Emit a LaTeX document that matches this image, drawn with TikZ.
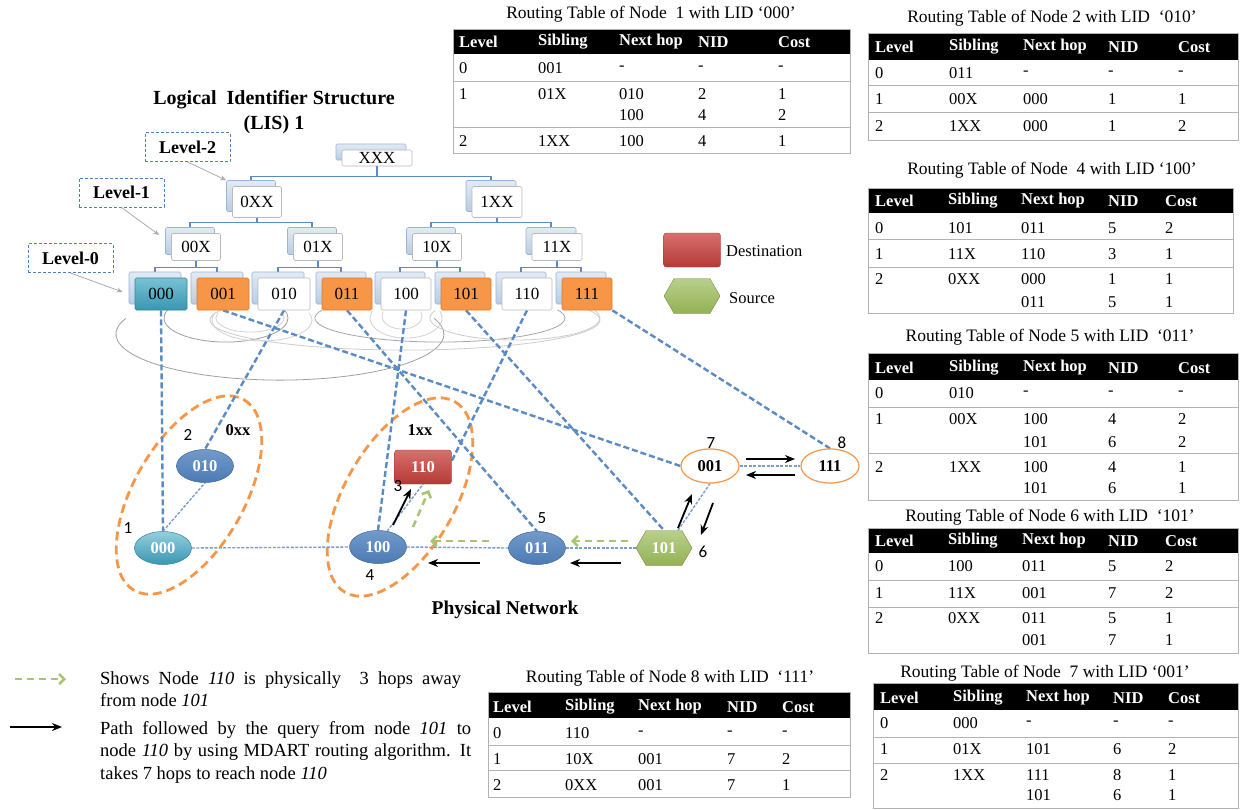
\documentclass[tikz,border=0pt]{standalone}
\usepackage{fontspec}
\setmainfont{Liberation Serif}
\newfontfamily\carl{Carlito}
\usetikzlibrary{calc,arrows.meta,shapes.geometric,shapes.symbols}
\pgfdeclarelayer{bg}
\pgfsetlayers{bg,main}
\definecolor{tblue}{HTML}{5B8BC4}
\definecolor{dblue}{HTML}{4F81BD}
\definecolor{lnk}{HTML}{7B9DCD}
\definecolor{orng}{HTML}{F79646}
\definecolor{orngd}{HTML}{E0782C}
\definecolor{grn}{HTML}{9BBB59}
\definecolor{backb}{HTML}{B8CCE4}
\definecolor{tealc}{HTML}{3FA7C4}
\definecolor{redc}{HTML}{C9403C}
\newcommand\fz[1]{\fontsize{#1}{#1}\selectfont}
\newcommand\tbox[7]{%
  \node[backbox,minimum width=#4pt,minimum height=#5pt] (#1b) at ($(#2,#3)+(-6,-6)$) {};
  \node[frontbox,minimum width=#4pt,minimum height=#5pt,#7] (#1) at (#2,#3) {#6};}
\newcommand\tframe[7]{%
  \fill[black] (#1,#3) rectangle (#2,#4);
  \draw[tbl] (#1,#3) rectangle (#2,#5);
  \draw[tbl] (#1,#6) -- (#2,#6) (#1,#7) -- (#2,#7);}
\newcommand\thead[7]{%
  \node[hd] (#1h1) at (#3,#2) {Level};
  \node[hd] (#1h2) at (#4,#2) {Sibling};
  \node[hd] (#1h3) at (#5,#2) {Next hop};
  \node[hd] (#1h4) at (#6,#2) {NID};
  \node[hd] (#1h5) at (#7,#2) {Cost};}
\newcommand\tcells[2]{\foreach \cx/\cy/\ctx [count=\ci] in {#2} {\node[cl] (#1c\ci) at (\cx,\cy) {\ctx};}}
\newcommand\larc[5]{\draw[arcl,#5] ($(#1,#2)+({-0.94*#3},{-0.34*#4})$) arc[start angle=200,end angle=-20,x radius=#3,y radius=#4];}
\begin{document}
\begin{tikzpicture}[x=1pt,y=-1pt,
 tline/.style={draw=tblue, line width=1.2pt},
 backbox/.style={draw=backb!70!dblue, line width=0.6pt, top color=backb!40!white, bottom color=backb, rounded corners=1.5pt, inner sep=0pt},
 frontbox/.style={draw=gray!55, line width=0.6pt, fill=white, rounded corners=1.5pt, inner sep=0pt, font=\fz{17}},
 orf/.style={fill=orng, draw=orngd},
 tealf/.style={top color=tealc!70!white, bottom color=tealc!90!black, draw=tealc!80!black},
 lvl/.style={draw=dblue, line width=1pt, dash pattern=on 3pt off 2pt, minimum width=85pt, minimum height=29pt, inner sep=0pt, font=\fz{18}\bfseries},
 lvarrow/.style={draw=gray!65, line width=0.8pt, -{Stealth[length=6pt,width=5pt]}},
 arcl/.style={line width=0.8pt},
 odash/.style={draw=orng, line width=2.8pt, dash pattern=on 9pt off 5pt},
 ldash/.style={draw=tblue, line width=2.4pt, dash pattern=on 6pt off 3pt},
 plink/.style={draw=lnk, line width=1.4pt, dash pattern=on 3pt off 1.5pt},
 garrow/.style={draw=grn!85!white, line width=2.6pt, dash pattern=on 7pt off 5pt, -{Straight Barb[length=5pt,width=10pt]}},
 barrow/.style={draw=black, line width=1.8pt, -{Stealth[length=10pt,width=8pt]}},
 pn/.style={ellipse, minimum width=57pt, minimum height=33pt, inner sep=0pt, text=white, font=\fz{16.5}\bfseries, draw=dblue!80!black, line width=0.5pt, top color=dblue!80!white, bottom color=dblue!95!black},
 p1/.style={top color=tealc!55!white, bottom color=tealc!90!black, draw=tealc!80!black},
 pw/.style={ellipse, minimum width=58pt, minimum height=34pt, inner sep=0pt, draw=orng, line width=1.2pt, fill=white, font=\fz{16.5}\bfseries},
 dest/.style={rectangle, rounded corners=3pt, minimum width=57pt, minimum height=34pt, inner sep=0pt, top color=redc!75!white, bottom color=redc!90!black, draw=redc!80!black, text=white, font=\fz{16.5}\bfseries},
 src/.style={signal, signal to=east and west, signal pointer angle=120, minimum width=56pt, minimum height=35pt, inner sep=0pt, top color=grn!70!white, bottom color=grn!95!black, draw=grn!75!black, text=white, font=\fz{16.5}\bfseries},
 num/.style={inner sep=0pt, font=\carl\fz{17}},
 bnum/.style={inner sep=0pt, font=\fz{16.5}\bfseries},
 tbl/.style={draw=gray!60, line width=1pt},
 hd/.style={anchor=west, inner sep=0pt, text=white, font=\fz{16.5}\bfseries},
 cl/.style={anchor=west, inner sep=0pt, font=\fz{16.5}},
 ttl/.style={inner sep=0pt, font=\fz{17.5}},
 legtxt/.style={anchor=west, inner sep=0pt, font=\fz{16.5}}
]
\useasboundingbox (0,0) rectangle (1244,809);
\begin{pgfonlayer}{bg}
\fill[white] (0,0) rectangle (1244,809);
\end{pgfonlayer}

% ---------------- title and levels
\node[inner sep=0pt, align=center, font=\fontsize{20}{25}\selectfont\bfseries] (title) at (274,112) {Logical\ \ Identifier Structure\\(LIS) 1};
\node[lvl] (lv2) at (187.5,147) {Level-2};
\node[lvl] (lv1) at (121.5,192.5) {Level-1};
\node[lvl] (lv0) at (70.5,258) {Level-0};

% ---------------- logical tree
\tbox{nXXX}{377}{158}{70}{16}{XXX}{}
\tbox{n0XX}{257}{202}{49}{31}{0XX}{}
\tbox{n1XX}{497}{202}{50}{31}{1XX}{}
\tbox{n00X}{196}{247}{49}{27}{00X}{}
\tbox{n01X}{318}{247}{49}{27}{01X}{}
\tbox{n10X}{437}{247}{49}{27}{10X}{}
\tbox{n11X}{557}{247}{50}{27}{11X}{}
\tbox{L000}{161}{294}{52}{32}{000}{tealf}
\tbox{L001}{223}{294}{52}{32}{001}{orf}
\tbox{L010}{284}{294}{52}{32}{010}{}
\tbox{L011}{347}{294}{50}{32}{011}{orf}
\tbox{L100}{406}{294}{50}{32}{100}{}
\tbox{L101}{466}{294}{50}{32}{101}{orf}
\tbox{L110}{527}{294}{50}{32}{110}{}
\tbox{L111}{587}{294}{50}{32}{111}{orf}

\draw[tline] (nXXX.south) -- ++(0,10) -| (n0XXb.north);
\draw[tline] (nXXX.south) -- ++(0,10) -| (n1XXb.north);
\draw[tline] (n0XX.south) -- ++(0,5) -| (n00Xb.north);
\draw[tline] (n0XX.south) -- ++(0,5) -| (n01Xb.north);
\draw[tline] (n1XX.south) -- ++(0,5) -| (n10Xb.north);
\draw[tline] (n1XX.south) -- ++(0,5) -| (n11Xb.north);
\draw[tline] (n00X.south) -- ++(0,6.5) -| (L000b.north);
\draw[tline] (n00X.south) -- ++(0,6.5) -| (L001b.north);
\draw[tline] (n01X.south) -- ++(0,6.5) -| (L010b.north);
\draw[tline] (n01X.south) -- ++(0,6.5) -| (L011b.north);
\draw[tline] (n10X.south) -- ++(0,6.5) -| (L100b.north);
\draw[tline] (n10X.south) -- ++(0,6.5) -| (L101b.north);
\draw[tline] (n11X.south) -- ++(0,6.5) -| (L110b.north);
\draw[tline] (n11X.south) -- ++(0,6.5) -| (L111b.north);

\draw[lvarrow] (lv2.south) -- (n0XXb.north west);
\draw[lvarrow] (lv1.south) -- ($(n00Xb.west)+(-6,-6)$);
\draw[lvarrow] (lv0.south) -- ($(L000b.west)+(-6,4)$);

% ---------------- physical network
\node[pn,p1] (P1) at (163,548) {000};
\node[pn] (P2) at (205,466) {010};
\node[dest] (P3) at (423,467) {110};
\node[pn] (P4) at (378,547) {100};
\node[pn] (P5) at (537,548) {011};
\node[src] (P6) at (664,548) {101};
\node[pw] (P7) at (710,466) {001};
\node[pw] (P8) at (830,466) {111};

\node[num] (k1) at (128,528) {1};
\node[num] (k2) at (188,435) {2};
\node[num] (k3) at (398,486) {3};
\node[num] (k4) at (370,575) {4};
\node[num] (k5) at (542,518) {5};
\node[num] (k6) at (703,552) {6};
\node[num] (k7) at (711,443) {7};
\node[num] (k8) at (842,443) {8};
\node[bnum] (g0) at (238,430) {0xx};
\node[bnum] (g1) at (420,430) {1xx};
\node[inner sep=0pt, font=\fz{19.5}\bfseries] (pnet) at (505,610) {Physical Network};

\begin{pgfonlayer}{bg}
\draw[odash, rotate around={60:(189,495)}] (189,495) ellipse [x radius=110, y radius=55];
\draw[odash, rotate around={60:(400,497)}] (400,497) ellipse [x radius=110, y radius=55];
\larc{280}{334}{164}{46}{gray!75}
\larc{226}{318}{62}{24}{gray!75}
\larc{250}{318}{34}{14}{gray!35}
\larc{262}{320}{50}{21}{gray!35}
\larc{405}{320}{195}{30}{gray!40}
\larc{440}{318}{125}{24}{gray!70}
\larc{402}{316}{20}{13}{gray!35}
\larc{406}{318}{36}{20}{gray!35}
\larc{515}{318}{85}{22}{gray!40}
\draw[ldash] (L000.south) -- (P1.north);
\draw[ldash] (L010.south) -- (P2.north);
\draw[ldash] (L001.south) -- (P7.west);
\draw[ldash] (L011.south) -- (P5.north);
\draw[ldash] (L100.south) -- (P4.north);
\draw[ldash] (L101.south) -- (P6.north);
\draw[ldash] (L110.south) -- ($(P3.east)+(0,-6)$);
\draw[ldash] (L111.south east) -- (P8.north);
\draw[plink] (P1.north) -- (P2.south);
\draw[plink] (P1.east) -- (P4.west);
\draw[plink] (P4.east) -- (P5.west);
\draw[plink] (P5.east) -- (P6.west);
\draw[plink] (P4.60) -- (P3.south);
\draw[plink] ($(P6.north)+(14,0)$) -- (P7.south);
\draw[plink] (P7.east) -- (P8.west);
\end{pgfonlayer}

% path arrows
\coordinate (b1a) at (678,528); \coordinate (b1b) at (692,494);
\coordinate (b2a) at (713,503); \coordinate (b2b) at (701,535);
\coordinate (b3a) at (746,459); \coordinate (b3b) at (795,459);
\coordinate (b4a) at (795,475); \coordinate (b4b) at (746,475);
\coordinate (b5a) at (621,563); \coordinate (b5b) at (570,563);
\coordinate (b6a) at (480,563); \coordinate (b6b) at (428,563);
\coordinate (b7a) at (393,525); \coordinate (b7b) at (411,489);
\foreach \i in {1,...,7} {\draw[barrow] (b\i a) -- (b\i b);}
\coordinate (g1a) at (628,541); \coordinate (g1b) at (571,541);
\coordinate (g2a) at (489,541); \coordinate (g2b) at (430,541);
\coordinate (g3a) at (413,527); \coordinate (g3b) at (429,490);
\foreach \i in {1,2,3} {\draw[garrow] (g\i a) -- (g\i b);}

% ---------------- legends
\node[dest] (ldest) at (692,250) {};
\node[legtxt] (ldestt) at (726,251) {Destination};
\node[src] (lsrc) at (692,296) {};
\node[legtxt] (lsrct) at (729,298) {Source};

\coordinate (lg1a) at (15,679); \coordinate (lg1b) at (66,679);
\draw[garrow] (lg1a) -- (lg1b);
\coordinate (lg2a) at (10,727); \coordinate (lg2b) at (62,727);
\draw[barrow] (lg2a) -- (lg2b);
\node[anchor=north west, inner sep=0pt, text width=361pt, align=justify, font=\fontsize{18.5}{22}\selectfont] (lt1) at (100,671) {Shows Node \textit{110} is physically\ \ 3 hops away\linebreak from node \textit{101}};
\node[anchor=north west, inner sep=0pt, text width=371pt, align=justify, font=\fontsize{18.5}{22.5}\selectfont] (lt2) at (100,721) {Path followed by the query from node \textit{101} to\linebreak node \textit{110} by using MDART routing algorithm. It\linebreak takes 7 hops to reach node \textit{110}};

% ---------------- routing tables
% Node 1
\node[ttl] (t1) at (651,14) {Routing Table of Node\ \ 1 with LID ‘000’};
\tframe{453}{850}{29}{54}{153}{81}{127}
\thead{ta}{42}{459}{538}{619}{698}{778}
\tcells{ta}{459/68/0,538/68/001,619/68/-,698/68/-,778/68/-,459/94/1,538/94/01X,619/94/010,698/94/2,778/94/1,619/115/100,698/115/4,778/115/2,459/141/2,538/141/1XX,619/141/100,698/141/4,778/141/1}
% Node 2
\node[ttl] (t2) at (1052,18) {Routing Table of Node 2 with LID\ \ ‘010’};
\tframe{868}{1238}{33}{60}{140}{85}{112}
\thead{tb}{47}{875}{949}{1023}{1108}{1178}
\tcells{tb}{875/73/0,949/73/011,1023/73/-,1108/73/-,1178/73/-,875/99/1,949/99/00X,1023/99/000,1108/99/1,1178/99/1,875/126/2,949/126/1XX,1023/126/000,1108/126/1,1178/126/2}
% Node 4
\node[ttl] (t4) at (1052,170) {Routing Table of Node\ \ 4 with LID ‘100’};
\tframe{868}{1233}{188}{213}{313}{239}{267}
\thead{tc}{201}{875}{948}{1021}{1108}{1165}
\tcells{tc}{875/228/0,948/228/101,1021/228/011,1108/228/5,1165/228/2,875/254/1,948/254/11X,1021/254/110,1108/254/3,1165/254/1,875/279/2,948/279/0XX,1021/279/000,1108/279/1,1165/279/1,1021/302/011,1108/302/5,1165/302/1}
% Node 5
\node[ttl] (t5) at (1050,337) {Routing Table of Node 5 with LID\ \ ‘011’};
\tframe{868}{1238}{353}{380}{500}{407}{453}
\thead{td}{368}{875}{949}{1023}{1108}{1178}
\tcells{td}{875/393/0,949/393/010,1023/393/-,1108/393/-,1178/393/-,875/419/1,949/419/00X,1023/419/100,1108/419/4,1178/419/2,1023/442/101,1108/442/6,1178/442/2,875/467/2,949/467/1XX,1023/467/100,1108/467/4,1178/467/1,1023/488/101,1108/488/6,1178/488/1}
% Node 6
\node[ttl] (t6) at (1050,517) {Routing Table of Node 6 with LID\ \ ‘101’};
\tframe{868}{1238}{528}{553}{653}{580}{607}
\thead{te}{541}{875}{948}{1022}{1108}{1165}
\tcells{te}{875/566/0,948/566/100,1022/566/011,1108/566/5,1165/566/2,875/593/1,948/593/11X,1022/593/001,1108/593/7,1165/593/2,875/618/2,948/618/0XX,1022/618/011,1108/618/5,1165/618/1,1022/640/001,1108/640/7,1165/640/1}
% Node 7
\node[ttl] (t7) at (1045,673) {Routing Table of Node\ \ 7 with LID ‘001’};
\tframe{873}{1238}{683}{710}{808}{737}{763}
\thead{tf}{698}{880}{953}{1026}{1113}{1168}
\tcells{tf}{880/723/0,953/723/000,1026/723/-,1113/723/-,1168/723/-,880/749/1,953/749/01X,1026/749/101,1113/749/6,1168/749/2,880/775/2,953/775/1XX,1026/775/111,1113/775/8,1168/775/1,1026/795/101,1113/795/6,1168/795/1}
% Node 8
\node[ttl] (t8) at (670,678) {Routing Table of Node 8 with LID\ \ ‘111’};
\tframe{488}{850}{692}{718}{797}{745}{770}
\thead{tg}{707}{493}{565}{638}{727}{782}
\tcells{tg}{493/733/0,565/733/110,638/733/-,727/733/-,782/733/-,493/759/1,565/759/10X,638/759/001,727/759/7,782/759/2,493/785/2,565/785/0XX,638/785/001,727/785/7,782/785/1}
\end{tikzpicture}
\end{document}
